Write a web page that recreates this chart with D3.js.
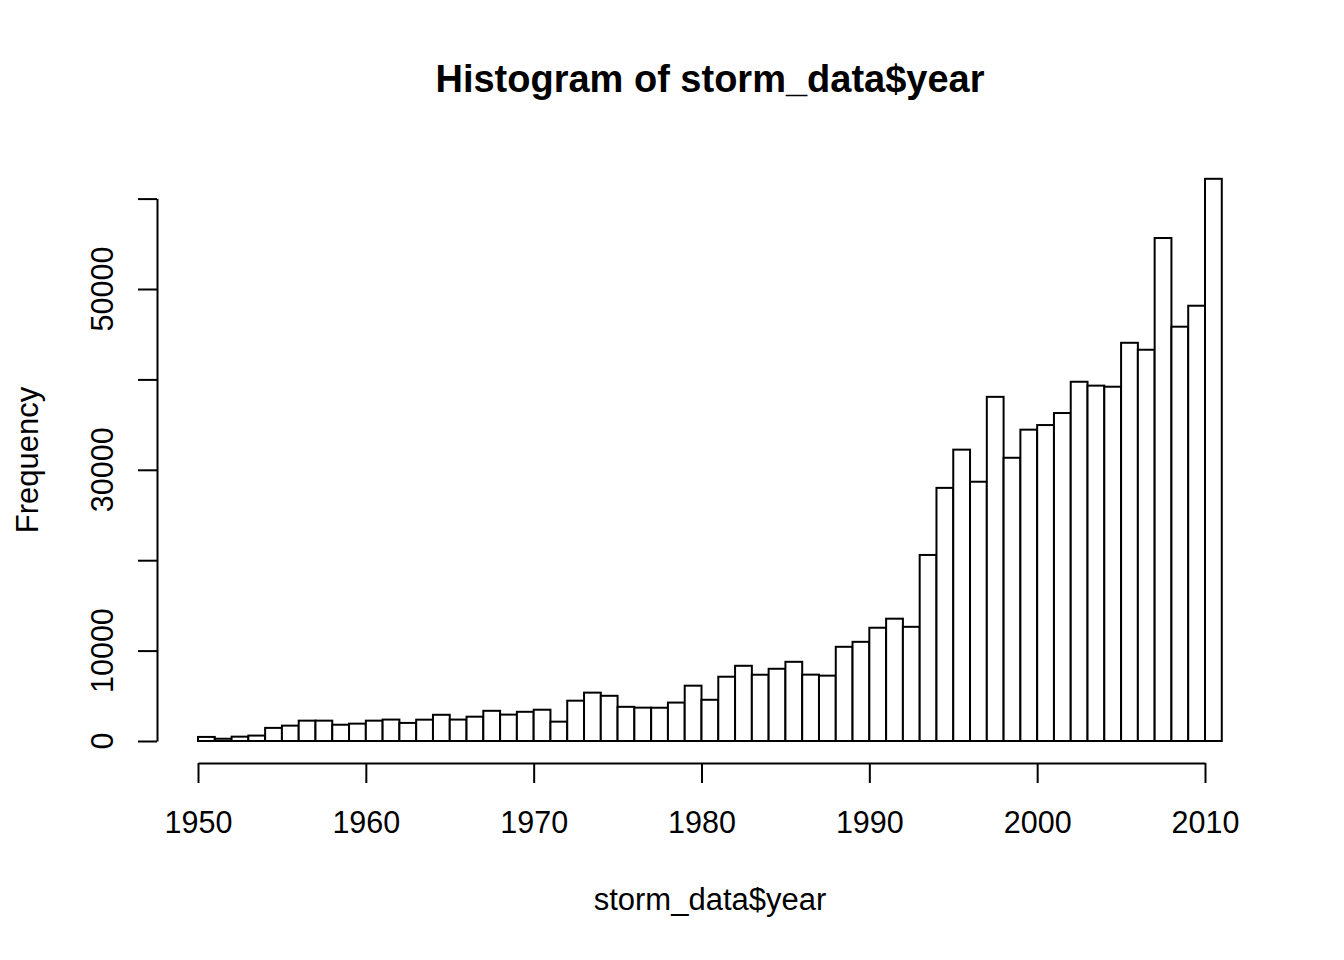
<!DOCTYPE html>
<html>
<head>
<meta charset="utf-8">
<script src="https://cdn.jsdelivr.net/npm/d3@7"></script>
<style>
  html, body { margin: 0; padding: 0; background: #fff; }
  text { font-family: "Liberation Sans", Arial, sans-serif; fill: #000; }
</style>
</head>
<body>
<svg id="hist" width="1344" height="960"></svg>
<script>
// left edge of each one-year bin
const binStarts = d3.range(1950, 2011);
// frequency per bin
const counts = [
  450, 250, 480, 600, 1450, 1700, 2250, 2250, 1800, 1920,
  2250, 2370, 2000, 2360, 2900, 2370, 2690, 3340, 2920, 3230,
  3460, 2140, 4460, 5350, 5000, 3780, 3690, 3680, 4250, 6120,
  4560, 7110, 8320, 7330, 7990, 8760, 7340, 7230, 10420, 10970,
  12530, 13530, 12630, 20580, 28000, 32230, 28680, 38070, 31330, 34440,
  34950, 36280, 39740, 39310, 39190, 44050, 43280, 55640, 45830, 48150,
  62190
];
const xTicks = [1950, 1960, 1970, 1980, 1990, 2000, 2010];
const yTicks = [0, 10000, 20000, 30000, 40000, 50000, 60000];
const yLabels = [0, 10000, 30000, 50000]; // R drops the ones that would overlap

const svg = d3.select("#hist");
const x = d3.scaleLinear().domain([1950, 2010]).range([198, 1205]);
const y = d3.scaleLinear().domain([0, 50000]).range([741, 289]);

const bins = binStarts.map((s, i) => ({x0: s, x1: s + 1, n: counts[i]}));

// bars
svg.append("g").selectAll("rect")
  .data(bins)
  .enter().append("rect")
  .attr("x", d => x(d.x0))
  .attr("y", d => y(d.n))
  .attr("width", d => x(d.x1) - x(d.x0))
  .attr("height", d => y(0) - y(d.n))
  .attr("fill", "#fff")
  .attr("stroke", "#000")
  .attr("stroke-width", 2);

// x axis (R style, offset below the bars)
const xAxis = d3.axisBottom(x).tickValues(xTicks).tickFormat(d3.format("d"))
  .tickSize(20).tickSizeOuter(0).tickPadding(10);
const gx = svg.append("g").attr("transform", "translate(0,763)").call(xAxis);
gx.select(".domain").attr("stroke-width", 2);
gx.selectAll(".tick line").attr("stroke-width", 2);
gx.selectAll("text").attr("font-size", 30.5).attr("dy", null).attr("y", 70);

// y axis, line runs from first to last tick
const yAx = y.copy().domain([0, 60000]).range([y(0), y(60000)]);
const yAxis = d3.axisLeft(yAx).tickValues(yTicks).tickFormat("")
  .tickSize(19).tickSizeOuter(0);
const gy = svg.append("g").attr("transform", "translate(157,0)").call(yAxis);
gy.select(".domain").attr("stroke-width", 2);
gy.selectAll(".tick line").attr("stroke-width", 2);

svg.append("g").selectAll("text")
  .data(yLabels)
  .enter().append("text")
  .attr("transform", d => `translate(113,${y(d)}) rotate(-90)`)
  .attr("text-anchor", "middle")
  .attr("font-size", 30.5)
  .text(d => d);

// titles
svg.append("text")
  .attr("x", 710).attr("y", 92)
  .attr("text-anchor", "middle")
  .attr("font-size", 38)
  .attr("font-weight", "bold")
  .text("Histogram of storm_data$year");

svg.append("text")
  .attr("x", 710).attr("y", 910)
  .attr("text-anchor", "middle")
  .attr("font-size", 31)
  .text("storm_data$year");

svg.append("text")
  .attr("transform", "translate(38,460) rotate(-90)")
  .attr("text-anchor", "middle")
  .attr("font-size", 31)
  .text("Frequency");
</script>
</body>
</html>
